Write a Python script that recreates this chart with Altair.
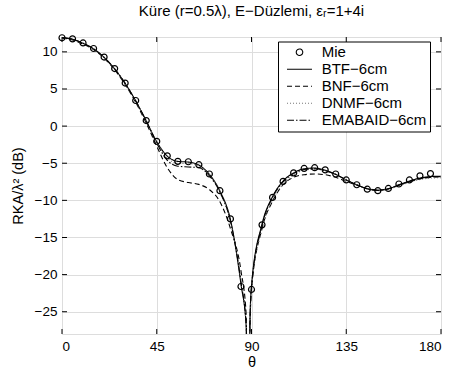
import altair as alt
import pandas as pd

# ---------------- data ----------------
series_names = ["Mie", "BTF−6cm", "BNF−6cm", "DNMF−6cm", "EMABAID−6cm"]

theta_mie = [0, 5, 10, 15, 20, 25, 30, 35, 40, 45, 50, 55, 60, 65, 70, 75, 80, 85,
             90, 95, 100, 105, 110, 115, 120, 125, 130, 135, 140, 145, 150, 155,
             160, 165, 170, 175]
mie = [11.9, 11.75, 11.2, 10.45, 9.3, 7.75, 5.8, 3.45, 0.75, -2.05, -4.0, -4.75,
       -4.8, -5.2, -6.45, -8.7, -12.5, -21.6, -22.0, -13.3, -9.6, -7.45, -6.3,
       -5.7, -5.6, -5.9, -6.45, -7.25, -7.9, -8.5, -8.7, -8.4, -7.8, -7.25, -6.7,
       -6.4]

theta_line = [0, 5, 10, 15, 20, 25, 30, 35, 40, 45, 50, 55, 60, 65, 70, 75, 80, 85,
              87.5, 88.3, 89.3, 90, 95, 100, 105, 110, 115, 120, 125, 130, 135,
              140, 145, 150, 155, 160, 165, 170, 175, 180]
btf = [11.9, 11.7, 11.15, 10.4, 9.25, 7.7, 5.75, 3.4, 0.7, -2.1, -4.05, -4.75,
       -4.85, -5.25, -6.5, -8.75, -12.6, -21.3, -27.0, -50.0, -26.0, -21.5, -13.2,
       -9.5, -7.4, -6.3, -5.75, -5.65, -5.95, -6.5, -7.25, -7.9, -8.45, -8.65,
       -8.45, -7.9, -7.4, -7.0, -6.8, -6.75]
bnf = [11.85, 11.6, 11.05, 10.3, 9.15, 7.6, 5.6, 3.2, 0.4, -2.7, -5.6, -7.2,
       -7.6, -7.85, -8.55, -10.2, -13.8, -19.5, -25.5, -50.0, -27.0, -22.0, -13.8,
       -10.1, -7.9, -6.9, -6.55, -6.45, -6.55, -6.9, -7.45, -7.95, -8.4, -8.6,
       -8.45, -8.0, -7.5, -7.1, -6.9, -6.8]
dnmf = [11.85, 11.65, 11.1, 10.35, 9.2, 7.65, 5.7, 3.35, 0.65, -2.2, -4.3, -5.0,
        -5.05, -5.35, -6.6, -8.9, -12.9, -21.0, -27.0, -50.0, -26.5, -22.0, -13.8,
        -10.0, -7.8, -6.6, -5.95, -5.8, -6.05, -6.55, -7.3, -7.95, -8.5, -8.7,
        -8.5, -8.05, -7.55, -7.2, -7.0, -6.95]
emabaid = [11.9, 11.7, 11.15, 10.4, 9.25, 7.7, 5.75, 3.4, 0.7, -2.3, -4.6, -5.4,
           -5.5, -5.6, -6.7, -8.9, -12.8, -21.0, -27.0, -50.0, -26.0, -21.7, -13.4,
           -9.6, -7.5, -6.4, -5.85, -5.75, -6.0, -6.5, -7.25, -7.9, -8.45, -8.65,
           -8.45, -7.95, -7.45, -7.05, -6.85, -6.8]

x_ticks = [0, 45, 90, 135, 180]
y_ticks = [-25, -20, -15, -10, -5, 0, 5, 10]

# ---------------- table ----------------
rows = []
for name, vals in zip(series_names[1:], [btf, bnf, dnmf, emabaid]):
    for t, v in zip(theta_line, vals):
        rows.append({"series": name, "theta": t, "value": v})
for t, v in zip(theta_mie, mie):
    rows.append({"series": "Mie", "theta": t, "value": v})
df = pd.DataFrame(rows)
xt_df = pd.DataFrame({"theta": x_ticks})
yt_df = pd.DataFrame({"value": y_ticks})

FONT = "Liberation Sans"
dash_range = [[1, 0], [1, 0], [5, 3], [1, 2], [7, 2, 1.5, 2]]
color_range = ["black", "black", "black", "#777777", "black"]
W, H = 379, 297

x_scale = alt.Scale(domain=[0, 180], nice=False)
y_scale = alt.Scale(domain=[-28, 12], nice=False)

x_axis = alt.Axis(values=x_ticks, title="θ", ticks=False, domain=False,
                  labelPadding=5, labelFont=FONT, labelFontSize=13.5,
                  labelColor="black", titleFont=FONT, titleFontSize=14.5,
                  titleFontWeight="normal", titleColor="black",
                  titleX=W / 2, titleY=28, titleBaseline="middle")
y_axis = alt.Axis(values=y_ticks, title="RKA/λ² (dB)", ticks=False,
                  domain=False, labelPadding=5, labelFont=FONT,
                  labelFontSize=13.5, labelColor="black", titleFont=FONT,
                  titleFontSize=14.5, titleFontWeight="normal",
                  titleColor="black", titleX=-44, titleY=H / 2,
                  titleBaseline="middle")
x_enc = alt.X("theta:Q", scale=x_scale, axis=x_axis)
y_enc = alt.Y("value:Q", scale=y_scale, axis=y_axis)

# legend symbols: a circle for Mie, a 25px line for the others (custom unit paths)
circle_path = "M-0.52,0A0.52,0.52,0,1,0,0.52,0A0.52,0.52,0,1,0,-0.52,0Z"
line_path = "M-2,0L2,0"
legend_kw = dict(
    title=None, orient="none", legendX=216, legendY=4.5,
    fillColor="white", strokeColor="black", padding=3.2,
    labelFont=FONT, labelFontSize=15, labelColor="black", labelOffset=14.7,
    labelExpr="datum.label + '\u2002'",
    symbolSize=156, symbolOffset=10.8, rowPadding=1, symbolStrokeWidth=1.1,
    symbolFillColor="transparent",
    symbolType={"expr": "datum.value === 'Mie' ? '" + circle_path + "' : '" + line_path + "'"},
)

lines = alt.Chart(df).transform_filter(alt.datum.series != "Mie").mark_line(
    clip=True, strokeWidth=1.1, interpolate="monotone"
).encode(
    x=x_enc,
    y=y_enc,
    strokeDash=alt.StrokeDash("series:N", scale=alt.Scale(domain=series_names, range=dash_range),
                              legend=alt.Legend(**legend_kw)),
    color=alt.Color("series:N", scale=alt.Scale(domain=series_names, range=color_range),
                    legend=alt.Legend(**legend_kw)),
)

points = alt.Chart(df).transform_filter(alt.datum.series == "Mie").mark_point(
    shape="circle", filled=False, size=36, strokeWidth=1.2, color="black",
    opacity=1, clip=False
).encode(x=x_enc, y=y_enc)

# inward tick marks on all four sides (MATLAB style)
tick_kw = dict(color="black", thickness=1, size=5, opacity=1)
ticks_left = alt.Chart(yt_df).mark_tick(**tick_kw).encode(y=y_enc, x=alt.value(2.5))
ticks_right = alt.Chart(yt_df).mark_tick(**tick_kw).encode(y=y_enc, x=alt.value(W - 2.5))
ticks_bottom = alt.Chart(xt_df).mark_tick(**tick_kw).encode(x=x_enc, y=alt.value(H - 2.5))
ticks_top = alt.Chart(xt_df).mark_tick(**tick_kw).encode(x=x_enc, y=alt.value(2.5))

chart = alt.layer(lines, points, ticks_left, ticks_right, ticks_bottom, ticks_top).properties(
    width=W, height=H,
    autosize=alt.AutoSizeParams(type="none"),
    padding={"left": 62, "top": 37, "right": 12, "bottom": 37},
    title=alt.TitleParams(text="Küre (r=0.5λ), E−Düzlemi, εᵣ=1+4i", font=FONT,
                          fontSize=15, fontWeight="normal", color="black",
                          offset=13.5),
).configure_view(stroke="black", strokeWidth=1).configure_axis(
    gridColor="#888888", gridDash=[1, 3], gridWidth=1, gridOpacity=1,
).configure(background="white")

chart.save("out.html", embed_options={"renderer": "svg", "actions": False})
